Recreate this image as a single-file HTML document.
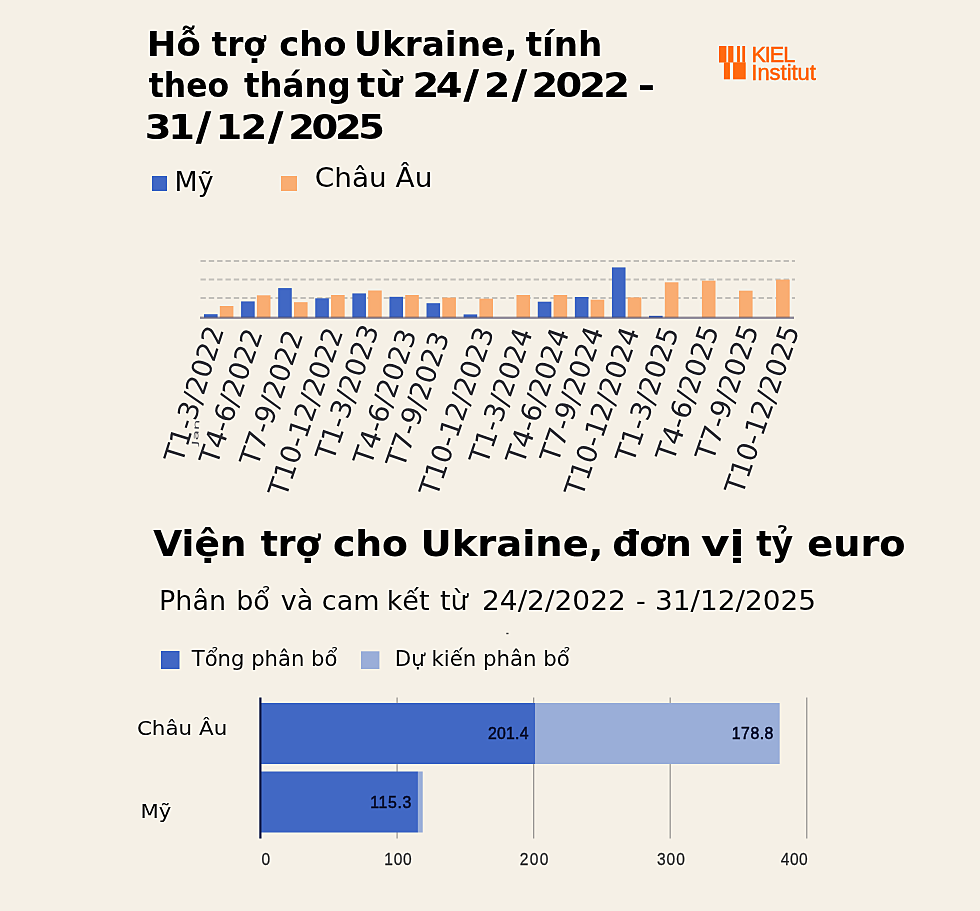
<!DOCTYPE html>
<html><head><meta charset="utf-8"><title>Hỗ trợ cho Ukraine</title>
<style>
html,body{margin:0;padding:0;background:#f5f0e6;}
body{width:980px;height:911px;overflow:hidden;}
svg{display:block;}
.v{font-family:"DejaVu Sans","Noto Sans CJK SC",sans-serif;}
.a{font-family:"Liberation Sans",Arial,sans-serif;}
</style></head><body>
<svg width="980" height="911" viewBox="0 0 980 911">
<defs><filter id="sh" x="-30" y="-30" width="1040" height="971" filterUnits="userSpaceOnUse" color-interpolation-filters="sRGB"><feGaussianBlur in="SourceGraphic" stdDeviation="0.45" result="s"/><feGaussianBlur in="s" stdDeviation="1.2" result="b"/><feComposite in="s" in2="b" operator="arithmetic" k1="0" k2="1.55" k3="-0.55" k4="0"/></filter></defs>
<g filter="url(#sh)">
<rect x="-30" y="-30" width="1040" height="971" fill="#f5f0e6"/>

<text class="v" transform="translate(146.8 55.5) scale(1.061 1)" style="font-family:'DejaVu Sans',sans-serif;font-weight:bold;font-size:33.4px;letter-spacing:0px;fill:#000">Hỗ</text>
<text class="v" transform="translate(211.55 55.5) scale(0.9801 1)" style="font-family:'DejaVu Sans',sans-serif;font-weight:bold;font-size:33.4px;letter-spacing:0px;fill:#000">trợ</text>
<text class="v" transform="translate(279.15 55.5) scale(1.0144 1)" style="font-family:'DejaVu Sans',sans-serif;font-weight:bold;font-size:33.4px;letter-spacing:0px;fill:#000">cho</text>
<text class="v" transform="translate(354.0 55.5) scale(1.029 1)" style="font-family:'DejaVu Sans',sans-serif;font-weight:bold;font-size:33.4px;letter-spacing:0px;fill:#000">Ukraine,</text>
<text class="v" transform="translate(525.65 55.5) scale(1.0238 1)" style="font-family:'DejaVu Sans',sans-serif;font-weight:bold;font-size:33.4px;letter-spacing:0px;fill:#000">tính</text>
<text class="v" transform="translate(148.8 97.3) scale(0.9422 1)" style="font-family:'DejaVu Sans',sans-serif;font-weight:bold;font-size:33.4px;letter-spacing:0px;fill:#000">theo</text>
<text class="v" transform="translate(244.0 97.3) scale(0.9717 1)" style="font-family:'DejaVu Sans',sans-serif;font-weight:bold;font-size:33.4px;letter-spacing:0px;fill:#000">tháng</text>
<text class="v" transform="translate(357.0 97.3) scale(1.15 1)" style="font-family:'DejaVu Sans',sans-serif;font-weight:bold;font-size:33.4px;letter-spacing:0px;fill:#000">từ</text>
<text class="v" transform="translate(412.5 97.3) scale(1.15 1)" style="font-family:'DejaVu Sans',sans-serif;font-weight:bold;font-size:33.4px;letter-spacing:-3px;fill:#000">24</text>
<text class="v" transform="translate(464.2 97.3)" style="font-family:'DejaVu Sans',sans-serif;font-weight:bold;font-size:33.4px;font-size:38px;stroke:#000;stroke-width:1.3px;letter-spacing:0px;fill:#000">/</text>
<text class="v" transform="translate(484.1 97.3) scale(1.1274 1)" style="font-family:'DejaVu Sans',sans-serif;font-weight:bold;font-size:33.4px;letter-spacing:0px;fill:#000">2</text>
<text class="v" transform="translate(512.6 97.3)" style="font-family:'DejaVu Sans',sans-serif;font-weight:bold;font-size:33.4px;font-size:38px;stroke:#000;stroke-width:1.3px;letter-spacing:0px;fill:#000">/</text>
<text class="v" transform="translate(531.5 97.3) scale(1.15 1)" style="font-family:'DejaVu Sans',sans-serif;font-weight:bold;font-size:33.4px;letter-spacing:-2.435px;fill:#000">2022</text>
<text class="v" transform="translate(637.75 97.3) scale(1.25 1)" style="font-family:'DejaVu Sans',sans-serif;font-weight:bold;font-size:33.4px;stroke-width:0.2px;letter-spacing:0px;fill:#000">-</text>
<text class="v" transform="translate(144.85 139) scale(1.15 1)" style="font-family:'DejaVu Sans',sans-serif;font-weight:bold;font-size:33.4px;letter-spacing:-2.783px;fill:#000">31</text>
<text class="v" transform="translate(196.5 139)" style="font-family:'DejaVu Sans',sans-serif;font-weight:bold;font-size:33.4px;font-size:38px;stroke:#000;stroke-width:1.3px;letter-spacing:0px;fill:#000">/</text>
<text class="v" transform="translate(215.5 139) scale(1.15 1)" style="font-family:'DejaVu Sans',sans-serif;font-weight:bold;font-size:33.4px;letter-spacing:-1.565px;fill:#000">12</text>
<text class="v" transform="translate(268.85 139)" style="font-family:'DejaVu Sans',sans-serif;font-weight:bold;font-size:33.4px;font-size:38px;stroke:#000;stroke-width:1.3px;letter-spacing:0px;fill:#000">/</text>
<text class="v" transform="translate(288.3 139) scale(1.15 1)" style="font-family:'DejaVu Sans',sans-serif;font-weight:bold;font-size:33.4px;letter-spacing:-2.957px;fill:#000">2025</text>
<rect x="719" y="46" width="7.4" height="16.5" fill="#ff6a10"/>
<rect x="728.2" y="46" width="5.2" height="16.5" fill="#ff6a10"/>
<rect x="737.1" y="46" width="2.8" height="16.5" fill="#ff6a10"/>
<rect x="742.3" y="46" width="2.8" height="16.5" fill="#ff6a10"/>
<rect x="723.9" y="62.3" width="6" height="17" fill="#ff6a10"/>
<rect x="733.1" y="62.3" width="12.6" height="17" fill="#ff6a10"/>
<text class="a" x="751.5" y="62" style="font-size:21.5px;fill:#ff6a10;stroke:#ff6a10;stroke-width:0.5px;letter-spacing:-1px">KIEL</text>
<text class="a" transform="translate(751.3 80) scale(1.02 1)" style="font-size:21.5px;fill:#ff6a10;stroke:#ff6a10;stroke-width:0.5px">Institut</text>
<rect x="152" y="176" width="15" height="15" fill="#4168c4"/>
<text class="v" transform="translate(174.55 190.6) scale(0.9912 1)" style="font-family:'DejaVu Sans',sans-serif;font-size:27px;letter-spacing:0px;fill:#111">Mỹ</text>
<rect x="281" y="176" width="16" height="15" fill="#f9ad72"/>
<text class="v" transform="translate(314.75 187.1) scale(1.0339 1)" style="font-family:'DejaVu Sans',sans-serif;font-size:27px;letter-spacing:0px;fill:#111">Châu Âu</text>
<line x1="200" y1="261.1" x2="795" y2="261.1" stroke="#c9c6c0" stroke-width="2" stroke-dasharray="5.33 3.0" stroke-dashoffset="-0.5"/>
<line x1="200" y1="279.5" x2="795" y2="279.5" stroke="#c9c6c0" stroke-width="2" stroke-dasharray="5.33 3.0" stroke-dashoffset="-0.5"/>
<line x1="200" y1="298" x2="795" y2="298" stroke="#c9c6c0" stroke-width="2" stroke-dasharray="5.33 3.0" stroke-dashoffset="-0.5"/>
<rect x="204.00" y="314.2" width="13.6" height="3.40" fill="#4168c4"/>
<rect x="219.80" y="306" width="13.6" height="11.60" fill="#f9ad72"/>
<rect x="241.09" y="301.4" width="13.6" height="16.20" fill="#4168c4"/>
<rect x="256.88" y="295.3" width="13.6" height="22.30" fill="#f9ad72"/>
<rect x="278.17" y="288.1" width="13.6" height="29.50" fill="#4168c4"/>
<rect x="293.97" y="302.2" width="13.6" height="15.40" fill="#f9ad72"/>
<rect x="315.25" y="298.3" width="13.6" height="19.30" fill="#4168c4"/>
<rect x="331.06" y="295" width="13.6" height="22.60" fill="#f9ad72"/>
<rect x="352.34" y="293.4" width="13.6" height="24.20" fill="#4168c4"/>
<rect x="368.14" y="290.5" width="13.6" height="27.10" fill="#f9ad72"/>
<rect x="389.43" y="296.8" width="13.6" height="20.80" fill="#4168c4"/>
<rect x="405.23" y="295" width="13.6" height="22.60" fill="#f9ad72"/>
<rect x="426.51" y="303.2" width="13.6" height="14.40" fill="#4168c4"/>
<rect x="442.31" y="297.6" width="13.6" height="20.00" fill="#f9ad72"/>
<rect x="463.60" y="314.4" width="13.6" height="3.20" fill="#4168c4"/>
<rect x="479.40" y="298.7" width="13.6" height="18.90" fill="#f9ad72"/>
<rect x="516.48" y="295" width="13.6" height="22.60" fill="#f9ad72"/>
<rect x="537.76" y="301.7" width="13.6" height="15.90" fill="#4168c4"/>
<rect x="553.56" y="295" width="13.6" height="22.60" fill="#f9ad72"/>
<rect x="574.85" y="297" width="13.6" height="20.60" fill="#4168c4"/>
<rect x="590.65" y="299.7" width="13.6" height="17.90" fill="#f9ad72"/>
<rect x="611.93" y="267.4" width="13.6" height="50.20" fill="#4168c4"/>
<rect x="627.73" y="297.4" width="13.6" height="20.20" fill="#f9ad72"/>
<rect x="649.02" y="315.8" width="13.6" height="1.80" fill="#4168c4"/>
<rect x="664.82" y="282.3" width="13.6" height="35.30" fill="#f9ad72"/>
<rect x="701.90" y="280.7" width="13.6" height="36.90" fill="#f9ad72"/>
<rect x="738.99" y="290.7" width="13.6" height="26.90" fill="#f9ad72"/>
<rect x="776.07" y="279.6" width="13.6" height="38.00" fill="#f9ad72"/>
<rect x="200" y="316.6" width="594" height="1.4" fill="#4a4660" opacity="0.55"/>
<rect x="200" y="318" width="594" height="0.8" fill="#8a8699"/>
<text class="v" x="214.81" y="326.5" text-anchor="end" dominant-baseline="central" transform="rotate(-72.6 214.81 326.5)" style="font-size:27.5px;fill:#303036">T1-3/2022</text>
<text class="v" x="253.43" y="329.5" text-anchor="end" dominant-baseline="central" transform="rotate(-71 253.43 329.5)" style="font-size:27.5px;fill:#303036">T4-6/2022</text>
<text class="v" x="294.05" y="331.0" text-anchor="end" dominant-baseline="central" transform="rotate(-71 294.05 331.0)" style="font-size:27.5px;fill:#303036">T7-9/2022</text>
<text class="v" x="333.92" y="328.5" text-anchor="end" dominant-baseline="central" transform="rotate(-71 333.92 328.5)" style="font-size:27.5px;fill:#303036">T10-12/2022</text>
<text class="v" x="369.79" y="325.5" text-anchor="end" dominant-baseline="central" transform="rotate(-71 369.79 325.5)" style="font-size:27.5px;fill:#303036">T1-3/2023</text>
<text class="v" x="407.41" y="330.0" text-anchor="end" dominant-baseline="central" transform="rotate(-71 407.41 330.0)" style="font-size:27.5px;fill:#303036">T4-6/2023</text>
<text class="v" x="440.28" y="332.5" text-anchor="end" dominant-baseline="central" transform="rotate(-71 440.28 332.5)" style="font-size:27.5px;fill:#303036">T7-9/2023</text>
<text class="v" x="484.90" y="328.0" text-anchor="end" dominant-baseline="central" transform="rotate(-71 484.90 328.0)" style="font-size:27.5px;fill:#303036">T10-12/2023</text>
<text class="v" x="523.52" y="329.0" text-anchor="end" dominant-baseline="central" transform="rotate(-71 523.52 329.0)" style="font-size:27.5px;fill:#303036">T1-3/2024</text>
<text class="v" x="559.89" y="329.0" text-anchor="end" dominant-baseline="central" transform="rotate(-71 559.89 329.0)" style="font-size:27.5px;fill:#303036">T4-6/2024</text>
<text class="v" x="594.26" y="327.5" text-anchor="end" dominant-baseline="central" transform="rotate(-71 594.26 327.5)" style="font-size:27.5px;fill:#303036">T7-9/2024</text>
<text class="v" x="630.13" y="328.0" text-anchor="end" dominant-baseline="central" transform="rotate(-71 630.13 328.0)" style="font-size:27.5px;fill:#303036">T10-12/2024</text>
<text class="v" x="669.75" y="327.5" text-anchor="end" dominant-baseline="central" transform="rotate(-71 669.75 327.5)" style="font-size:27.5px;fill:#303036">T1-3/2025</text>
<text class="v" x="709.87" y="326.0" text-anchor="end" dominant-baseline="central" transform="rotate(-71 709.87 326.0)" style="font-size:27.5px;fill:#303036">T4-6/2025</text>
<text class="v" x="749.49" y="325.5" text-anchor="end" dominant-baseline="central" transform="rotate(-71 749.49 325.5)" style="font-size:27.5px;fill:#303036">T7-9/2025</text>
<text class="v" x="790.36" y="326.0" text-anchor="end" dominant-baseline="central" transform="rotate(-71 790.36 326.0)" style="font-size:27.5px;fill:#303036">T10-12/2025</text>
<text class="v" transform="translate(197.6 445.5) rotate(-86) scale(2.1 1)" style="font-size:8px;fill:#5a5a60">Jan</text>
<text class="v" transform="translate(153.25 556.2) scale(1.0407 1)" style="font-family:'DejaVu Sans',sans-serif;font-weight:bold;font-size:36px;stroke:#000;stroke-width:0.1px;letter-spacing:0px;fill:#000">Viện</text>
<text class="v" transform="translate(260.7 556.2) scale(0.9967 1)" style="font-family:'DejaVu Sans',sans-serif;font-weight:bold;font-size:36px;stroke:#000;stroke-width:0.1px;letter-spacing:0px;fill:#000">trợ</text>
<text class="v" transform="translate(332.9 556.2) scale(1.0472 1)" style="font-family:'DejaVu Sans',sans-serif;font-weight:bold;font-size:36px;stroke:#000;stroke-width:0.1px;letter-spacing:0px;fill:#000">cho</text>
<text class="v" transform="translate(420.6 556.2) scale(1.0671 1)" style="font-family:'DejaVu Sans',sans-serif;font-weight:bold;font-size:36px;stroke:#000;stroke-width:0.1px;letter-spacing:0px;fill:#000">Ukraine,</text>
<text class="v" transform="translate(612.35 556.2) scale(1.0437 1)" style="font-family:'DejaVu Sans',sans-serif;font-weight:bold;font-size:36px;stroke:#000;stroke-width:0.1px;letter-spacing:0px;fill:#000">đơn</text>
<text class="v" transform="translate(700.95 556.2) scale(1.2162 1)" style="font-family:'DejaVu Sans',sans-serif;font-weight:bold;font-size:36px;stroke:#000;stroke-width:0.1px;letter-spacing:0px;fill:#000">vị</text>
<text class="v" transform="translate(756.2 556.2) scale(0.9078 1)" style="font-family:'DejaVu Sans',sans-serif;font-weight:bold;font-size:36px;stroke:#000;stroke-width:0.1px;letter-spacing:0px;fill:#000">tỷ</text>
<text class="v" transform="translate(807.25 556.2) scale(1.0619 1)" style="font-family:'DejaVu Sans',sans-serif;font-weight:bold;font-size:36px;stroke:#000;stroke-width:0.1px;letter-spacing:0px;fill:#000">euro</text>
<text class="v" transform="translate(159.0 609.8)" style="font-family:'DejaVu Sans',sans-serif;font-size:27px;letter-spacing:0px;fill:#1a1a1a">Phân</text>
<text class="v" transform="translate(236.2 609.8)" style="font-family:'DejaVu Sans',sans-serif;font-size:27px;letter-spacing:0px;fill:#1a1a1a">bổ</text>
<text class="v" transform="translate(280.75 609.8)" style="font-family:'DejaVu Sans',sans-serif;font-size:27px;letter-spacing:0px;fill:#1a1a1a">và</text>
<text class="v" transform="translate(321.85 609.8)" style="font-family:'DejaVu Sans',sans-serif;font-size:27px;letter-spacing:0px;fill:#1a1a1a">cam</text>
<text class="v" transform="translate(386.65 609.8)" style="font-family:'DejaVu Sans',sans-serif;font-size:27px;letter-spacing:0px;fill:#1a1a1a">kết</text>
<text class="v" transform="translate(439.95 609.8)" style="font-family:'DejaVu Sans',sans-serif;font-size:27px;letter-spacing:0px;fill:#1a1a1a">từ</text>
<text class="v" transform="translate(481.9 609.8) scale(1.0406 1)" style="font-family:'DejaVu Sans',sans-serif;font-size:27px;letter-spacing:0px;fill:#1a1a1a">24/2/2022</text>
<text class="v" transform="translate(635.95 609.8)" style="font-family:'DejaVu Sans',sans-serif;font-size:27px;letter-spacing:0px;fill:#1a1a1a">-</text>
<text class="v" transform="translate(655.05 609.8) scale(1.0354 1)" style="font-family:'DejaVu Sans',sans-serif;font-size:27px;letter-spacing:0px;fill:#1a1a1a">31/12/2025</text>
<rect x="161" y="651" width="18.5" height="18" fill="#4168c4"/>
<text class="v" transform="translate(191.75 666) scale(1.0322 1)" style="font-family:'DejaVu Sans',sans-serif;font-size:20.5px;letter-spacing:0px;fill:#1a1a1a">Tổng phân bổ</text>
<rect x="361" y="651.3" width="18.4" height="17.7" fill="#9aaed8"/>
<text class="v" transform="translate(394.75 666) scale(1.0394 1)" style="font-family:'DejaVu Sans',sans-serif;font-size:20.5px;letter-spacing:0px;fill:#1a1a1a">Dự kiến phân bổ</text>
<rect x="396.45" y="697.5" width="1.3" height="141" fill="#a9a6a2"/>
<rect x="533.00" y="697.5" width="1.3" height="141" fill="#a9a6a2"/>
<rect x="669.55" y="697.5" width="1.3" height="141" fill="#a9a6a2"/>
<rect x="806.10" y="697.5" width="1.3" height="141" fill="#a9a6a2"/>
<rect x="260.50" y="703" width="275.01" height="61" fill="#4168c4"/>
<rect x="535.51" y="703" width="244.15" height="61" fill="#9aaed8"/>
<rect x="260.50" y="771.5" width="157.44" height="61" fill="#4168c4"/>
<rect x="417.94" y="771.5" width="4.78" height="61" fill="#9aaed8"/>
<rect x="259.3" y="697.5" width="2.2" height="141" fill="#1b2450"/>
<text class="v" transform="translate(488.1 739) scale(0.92 1)" style="font-family:'Liberation Sans',sans-serif;font-size:17.2px;stroke:#0d1333;stroke-width:0.55px;letter-spacing:0.217px;fill:#0d1333">201.4</text>
<text class="v" transform="translate(731.8 739) scale(0.92 1)" style="font-family:'Liberation Sans',sans-serif;font-size:17.2px;stroke:#0d1333;stroke-width:0.55px;letter-spacing:0.543px;fill:#0d1333">178.8</text>
<text class="v" transform="translate(370.2 807.5) scale(0.92 1)" style="font-family:'Liberation Sans',sans-serif;font-size:17.2px;stroke:#0d1333;stroke-width:0.55px;letter-spacing:0.761px;fill:#0d1333">115.3</text>
<text class="v" transform="translate(136.9 735.3) scale(1.0619 1)" style="font-family:'DejaVu Sans',sans-serif;font-size:20.2px;letter-spacing:0px;fill:#111">Châu Âu</text>
<text class="v" transform="translate(140.5 818.4) scale(1.08 1)" style="font-family:'DejaVu Sans',sans-serif;font-size:19.6px;letter-spacing:0px;fill:#111">Mỹ</text>
<text class="v" transform="translate(261.5 865.4) scale(0.95 1)" style="font-family:'Liberation Sans',sans-serif;font-size:16.4px;stroke:#3a3a3a;stroke-width:0.25px;letter-spacing:0px;fill:#3a3a3a">0</text>
<text class="v" transform="translate(384.35 865.4) scale(0.95 1)" style="font-family:'Liberation Sans',sans-serif;font-size:16.4px;stroke:#3a3a3a;stroke-width:0.25px;letter-spacing:0.737px;fill:#3a3a3a">100</text>
<text class="v" transform="translate(519.85 865.4) scale(0.95 1)" style="font-family:'Liberation Sans',sans-serif;font-size:16.4px;stroke:#3a3a3a;stroke-width:0.25px;letter-spacing:1.368px;fill:#3a3a3a">200</text>
<text class="v" transform="translate(657.05 865.4) scale(0.95 1)" style="font-family:'Liberation Sans',sans-serif;font-size:16.4px;stroke:#3a3a3a;stroke-width:0.25px;letter-spacing:0.947px;fill:#3a3a3a">300</text>
<text class="v" transform="translate(780.8 865.4) scale(0.95 1)" style="font-family:'Liberation Sans',sans-serif;font-size:16.4px;stroke:#3a3a3a;stroke-width:0.25px;letter-spacing:0.526px;fill:#3a3a3a">400</text>
<rect x="506.3" y="632.8" width="2.2" height="1.4" fill="#555"/>
</g></svg></body></html>
